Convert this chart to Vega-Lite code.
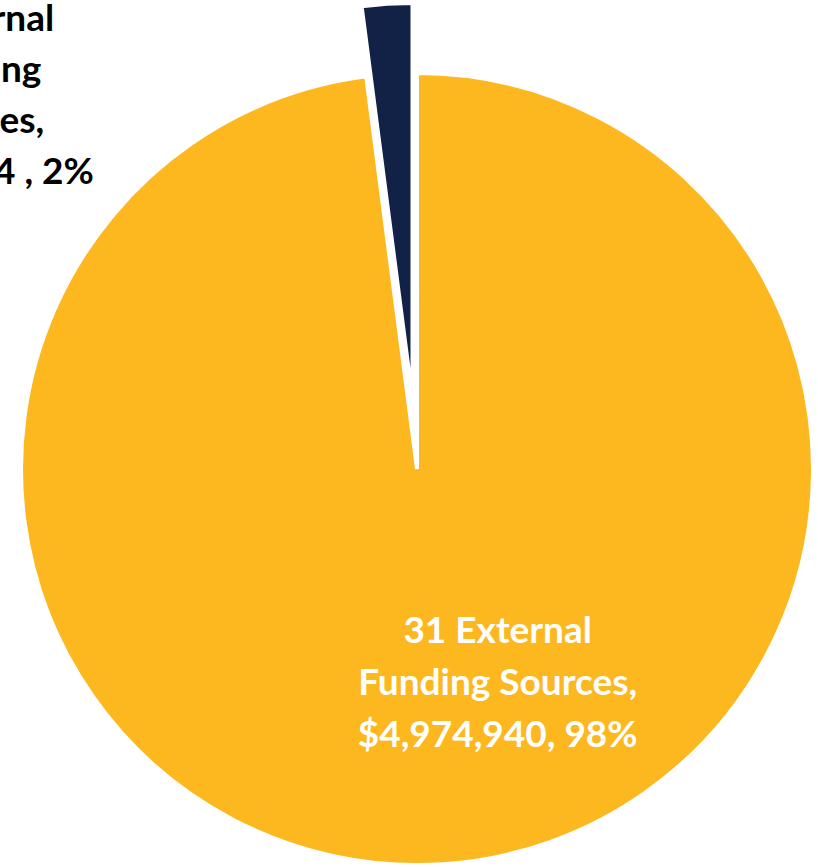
{
  "$schema": "https://vega.github.io/schema/vega-lite/v6.json",
  "width": 802,
  "height": 798,
  "autosize": {"type": "none"},
  "padding": {"left": 16, "top": 70, "right": 0, "bottom": 0},
  "background": "white",
  "config": {"view": {"stroke": null}},
  "data": {
    "values": [
      {"source": "External", "amount": 4974940, "label": "31 External\nFunding Sources,\n$4,974,940, 98%"},
      {"source": "Internal", "amount": 104124, "label": "1 Internal\nFunding\nSources,\n$104,124 , 2%"}
    ]
  },
  "encoding": {
    "theta": {"field": "amount", "type": "quantitative", "stack": true},
    "order": {"field": "amount", "type": "quantitative", "sort": "descending"},
    "color": {
      "field": "source",
      "type": "nominal",
      "scale": {"domain": ["External", "Internal"], "range": ["#FDB71F", "#122146"]},
      "legend": null
    }
  },
  "layer": [
    {
      "mark": {"type": "arc", "outerRadius": 396, "stroke": "white", "strokeWidth": 4},
      "encoding": {"opacity": {"condition": {"test": "datum.source === 'External'", "value": 1}, "value": 0}}
    },
    {
      "mark": {"type": "arc", "outerRadius": 396, "stroke": "white", "strokeWidth": 4, "xOffset": -4.5, "yOffset": -70},
      "encoding": {"opacity": {"condition": {"test": "datum.source === 'Internal'", "value": 1}, "value": 0}}
    },
    {
      "mark": {"type": "text", "radius": 228, "dx": 66, "dy": -65, "font": "Lato", "fontWeight": "bold", "fontSize": 37, "lineHeight": 52, "align": "center", "baseline": "middle", "lineBreak": "\n"},
      "encoding": {
        "text": {"field": "label"},
        "color": {"value": "white"},
        "opacity": {"condition": {"test": "datum.source === 'External'", "value": 1}, "value": 0}
      }
    },
    {
      "mark": {"type": "text", "radius": 400, "dx": -416, "dy": -50, "font": "Lato", "fontWeight": "bold", "fontSize": 37, "lineHeight": 51, "align": "center", "baseline": "middle", "lineBreak": "\n"},
      "encoding": {
        "text": {"field": "label"},
        "color": {"value": "black"},
        "opacity": {"condition": {"test": "datum.source === 'Internal'", "value": 1}, "value": 0}
      }
    }
  ]
}
